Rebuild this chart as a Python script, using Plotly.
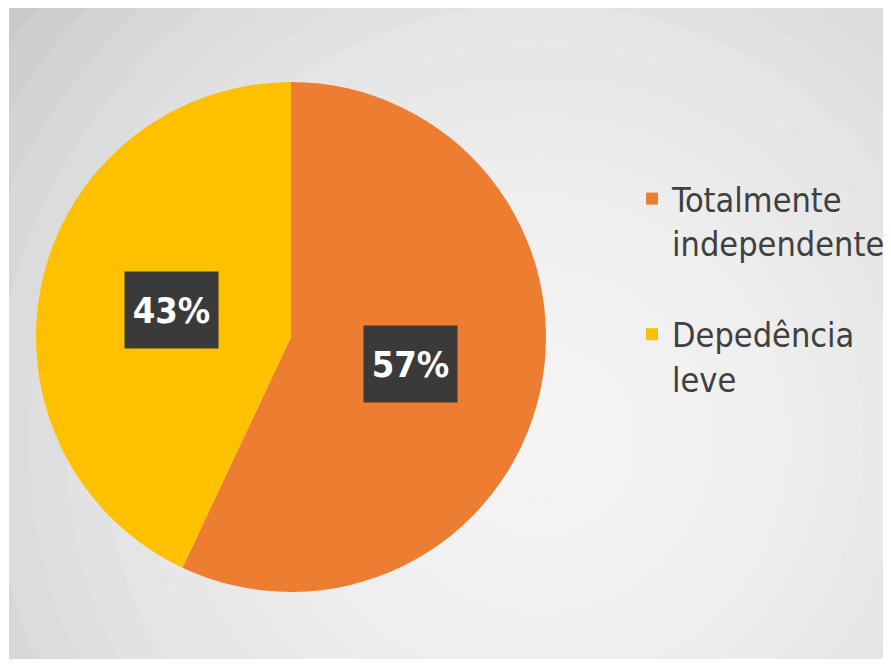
import math
import plotly.graph_objects as go

labels = ["Totalmente<br>independente<br> ", "Depedência<br>leve"]
values = [57, 43]
pct_text = ["57%", "43%"]
colors = ["#ED7D31", "#FFC000"]

# figure sits at (8, 8) in the page because of the default body margin
W, H = 875, 651
cx, cy, r = 283, 329, 255  # pie centre/radius in figure pixels (layout only)

fig = go.Figure()
fig.add_trace(go.Pie(
    labels=labels, values=values, sort=False, direction="clockwise", rotation=0,
    marker=dict(colors=colors, line=dict(width=0)),
    textinfo="none", hoverinfo="label+percent",
    domain=dict(x=[(cx - r) / W, (cx + r) / W], y=[1 - (cy + r) / H, 1 - (cy - r) / H]),
))

# background: grey panel with soft radial highlight
shapes = [dict(type="rect", xref="paper", yref="paper", x0=1 / W, x1=1, y0=0, y1=1,
               fillcolor="#c4c4c4", line=dict(width=0), layer="below")]
hx, hy = 532, 432
n = 18
for i in range(n):
    rad = 700 - i * (640 / (n - 1))
    shapes.append(dict(type="circle", xref="paper", yref="paper",
                       x0=(hx - rad) / W, x1=(hx + rad) / W,
                       y0=1 - (hy + rad) / H, y1=1 - (hy - rad) / H,
                       fillcolor="white", opacity=0.11, line=dict(width=0), layer="below"))
fig.update_layout(shapes=shapes)

# percentage labels placed at mid-angle of each slice
total = sum(values)
cum = 0
frac = 0.48
for v, t in zip(values, pct_text):
    mid = (cum + v / 2) / total * 2 * math.pi
    cum += v
    px = cx + frac * r * math.sin(mid)
    py = cy - frac * r * math.cos(mid)
    fig.add_annotation(x=px / W, y=1 - py / H, xref="paper", yref="paper",
                       xanchor="center", yanchor="middle",
                       text="<b>" + t + "</b>", showarrow=False,
                       font=dict(family="DejaVu Sans Condensed, sans-serif", size=36, color="white"),
                       bgcolor="#3a3a3a", width=93, height=76, borderpad=0, align="center")

fig.update_layout(
    width=W, height=H, autosize=False,
    margin=dict(l=0, r=0, t=0, b=0, autoexpand=False),
    paper_bgcolor="white",
    showlegend=True,
    legend=dict(x=624 / W, y=1 - 162 / H, xanchor="left", yanchor="top", valign="top",
                bgcolor="rgba(0,0,0,0)",
                font=dict(family="DejaVu Sans Condensed, sans-serif", size=34, color="#404040")),
)
fig.write_html("out.html")
